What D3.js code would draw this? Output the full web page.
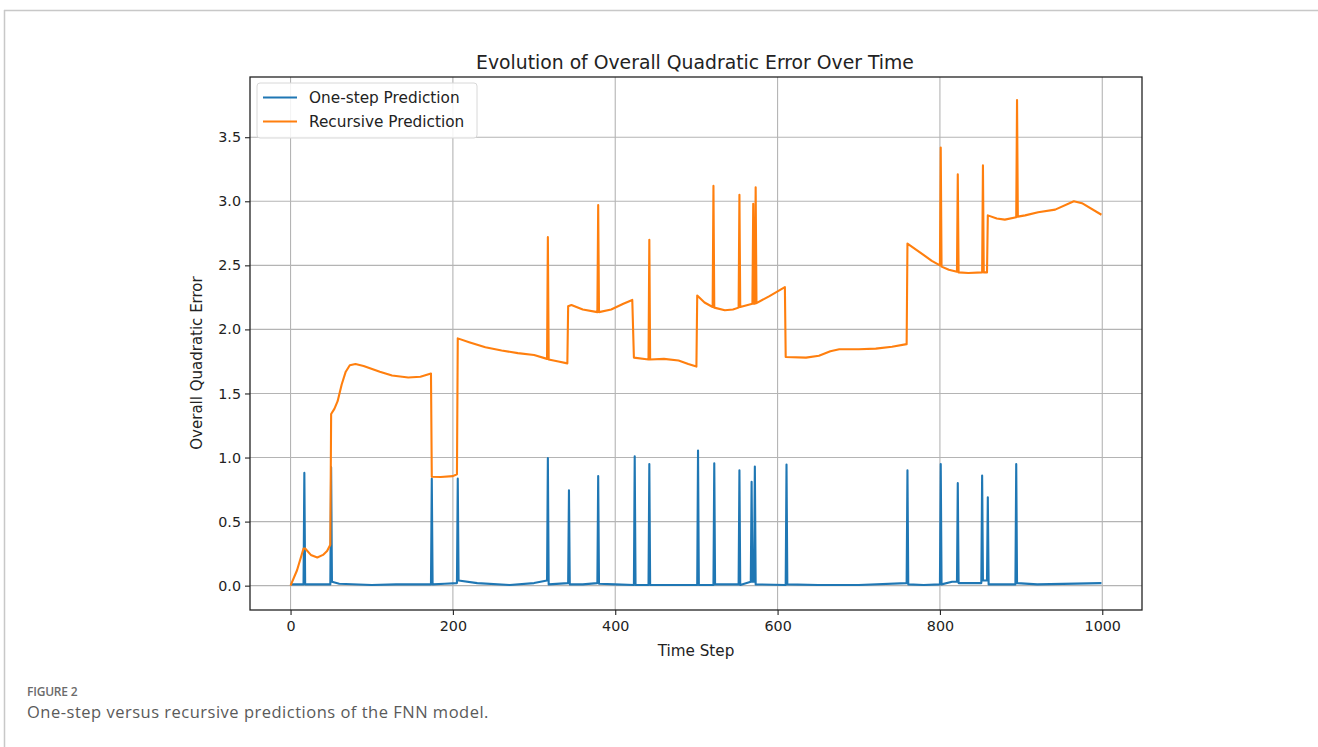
<!DOCTYPE html>
<html>
<head>
<meta charset="utf-8">
<script src="https://cdn.jsdelivr.net/npm/d3@7/dist/d3.min.js"></script>
<style>
  html, body { margin: 0; padding: 0; background: #ffffff; }
  svg { display: block; }
</style>
</head>
<body>
<svg id="chart" width="1318" height="747"></svg>
<script>
// ---------------- DATA ----------------
const chartTitle = "Evolution of Overall Quadratic Error Over Time";
const xLabel = "Time Step";
const yLabel = "Overall Quadratic Error";
const seriesNames = ["One-step Prediction", "Recursive Prediction"];
const xTicks = [0, 200, 400, 600, 800, 1000];
const yTicks = [0.0, 0.5, 1.0, 1.5, 2.0, 2.5, 3.0, 3.5];
const figureLabel = "FIGURE 2";
const figureCaption = "One-step versus recursive predictions of the FNN model.";

// One-step prediction: time steps and values (keypoints)
const oneStepT = [0, 16, 17, 18, 49, 50, 51, 60, 100, 130, 173, 174, 175, 190, 205, 206, 207, 230, 270, 300, 316, 317, 318,
  342, 343, 344, 360, 378, 379, 380, 400, 423, 424, 425, 441, 442, 443, 470, 501, 502, 503, 521, 522, 523,
  552, 553, 554, 567, 568, 569, 571, 572, 573, 610, 611, 612, 650, 700, 759, 760, 761, 780, 800, 801, 802,
  815, 821, 822, 823, 851, 852, 853, 858, 859, 860, 893, 894, 895, 920, 999];
const oneStepV = [0.01, 0.01, 0.88, 0.01, 0.01, 0.925, 0.03, 0.015, 0.005, 0.01, 0.01, 0.835, 0.01, 0.015, 0.02, 0.835, 0.04, 0.02, 0.005, 0.02, 0.04, 0.995, 0.01,
  0.02, 0.745, 0.01, 0.01, 0.02, 0.855, 0.015, 0.01, 0.005, 1.01, 0.005, 0.005, 0.95, 0.005, 0.005, 0.005, 1.055, 0.005, 0.005, 0.955, 0.01,
  0.01, 0.9, 0.005, 0.03, 0.81, 0.03, 0.03, 0.93, 0.01, 0.005, 0.945, 0.01, 0.005, 0.005, 0.02, 0.9, 0.01, 0.005, 0.01, 0.95, 0.01,
  0.03, 0.03, 0.8, 0.02, 0.02, 0.86, 0.04, 0.04, 0.69, 0.01, 0.01, 0.95, 0.02, 0.01, 0.02];

// Recursive prediction: time steps and values (keypoints)
const recursiveT = [0, 8, 16, 18, 25, 33, 40, 45, 49, 50, 54, 58, 63, 68, 73, 80, 90, 110, 125, 145, 160, 173, 174, 185, 200, 205,
  206, 220, 240, 260, 280, 300, 316, 317, 318, 330, 341, 342, 346, 360, 378, 379, 380, 395, 410, 421, 423, 441, 442, 443,
  460, 478, 490, 500, 501, 510, 520, 521, 522, 535, 545, 552, 553, 554, 569, 570, 571, 572, 573, 574, 590, 609, 610,
  635, 651, 665, 676, 700, 721, 741, 759, 760, 778, 790, 800, 801, 802, 811, 821, 822, 823, 835, 852, 853, 854, 858,
  859, 870, 880, 894, 895, 896, 905, 921, 942, 965, 975, 999];
const recursiveV = [0.0, 0.12, 0.29, 0.29, 0.24, 0.22, 0.24, 0.27, 0.32, 1.34, 1.38, 1.44, 1.57, 1.67, 1.72, 1.73, 1.715, 1.67, 1.64, 1.625, 1.63, 1.655, 0.85, 0.848, 0.855, 0.87,
  1.93, 1.9, 1.86, 1.835, 1.815, 1.8, 1.77, 2.72, 1.765, 1.75, 1.735, 2.18, 2.19, 2.155, 2.135, 2.97, 2.135, 2.155, 2.2, 2.23, 1.78, 1.765, 2.7, 1.765,
  1.77, 1.757, 1.73, 1.71, 2.265, 2.21, 2.175, 3.12, 2.17, 2.15, 2.155, 2.17, 3.05, 2.175, 2.2, 2.98, 2.2, 2.2, 3.11, 2.205, 2.26, 2.33, 1.785,
  1.78, 1.795, 1.83, 1.845, 1.845, 1.85, 1.865, 1.885, 2.67, 2.59, 2.535, 2.5, 3.42, 2.49, 2.465, 2.45, 3.21, 2.445, 2.44, 2.445, 3.28, 2.445, 2.445,
  2.89, 2.865, 2.857, 2.875, 3.79, 2.88, 2.89, 2.915, 2.935, 3.0, 2.985, 2.895];

const seriesColors = ["#1f77b4", "#ff7f0e"];

// ---------------- DRAWING ----------------
const svg = d3.select("#chart");
const font = "'DejaVu Sans', sans-serif";
const capFont = "'Open Sans', 'Noto Sans', sans-serif";

// figure frame lines
svg.append("line").attr("x1", 4).attr("x2", 1318).attr("y1", 10.5).attr("y2", 10.5)
  .attr("stroke", "#c8c8c8").attr("stroke-width", 1.5);
svg.append("line").attr("x1", 4.5).attr("x2", 4.5).attr("y1", 10).attr("y2", 747)
  .attr("stroke", "#c8c8c8").attr("stroke-width", 1.5);

const plot = { left: 250, right: 1142, top: 77, bottom: 610 };
const x = d3.scaleLinear().domain([-49.95, 1048.95]).range([plot.left, plot.right]);
const y = d3.scaleLinear().domain([-0.19, 3.97]).range([plot.bottom, plot.top]);

// grid
const g = svg.append("g");
g.append("g").selectAll("line").data(xTicks).join("line")
  .attr("x1", d => x(d)).attr("x2", d => x(d))
  .attr("y1", plot.top).attr("y2", plot.bottom)
  .attr("stroke", "#b4b4b4").attr("stroke-width", 1.1);
g.append("g").selectAll("line").data(yTicks).join("line")
  .attr("x1", plot.left).attr("x2", plot.right)
  .attr("y1", d => y(d)).attr("y2", d => y(d))
  .attr("stroke", "#b4b4b4").attr("stroke-width", 1.1);

// lines
const series = [
  oneStepT.map((t, i) => [t, oneStepV[i]]),
  recursiveT.map((t, i) => [t, recursiveV[i]])
];
const line = d3.line().x(d => x(d[0])).y(d => y(d[1]));
series.forEach((s, i) => {
  svg.append("path").datum(s)
    .attr("fill", "none")
    .attr("stroke", seriesColors[i])
    .attr("stroke-width", 2.1)
    .attr("stroke-linejoin", "round")
    .attr("stroke-linecap", "butt")
    .attr("d", line);
});

// axes
const xAxis = d3.axisBottom(x).tickValues(xTicks).tickFormat(d3.format("d")).tickSizeOuter(0).tickSize(5).tickPadding(6);
const yAxis = d3.axisLeft(y).tickValues(yTicks).tickFormat(d3.format(".1f")).tickSizeOuter(0).tickSize(5).tickPadding(4);
const gx = svg.append("g").attr("transform", `translate(0,${plot.bottom})`).call(xAxis);
const gy = svg.append("g").attr("transform", `translate(${plot.left},0)`).call(yAxis);
[gx, gy].forEach(a => {
  a.select(".domain").remove();
  a.selectAll("line").attr("stroke", "#222").attr("stroke-width", 1.1);
  a.selectAll("text").attr("font-family", font).attr("font-size", 14.3).attr("fill", "#222");
});

// spines
svg.append("rect").attr("x", plot.left).attr("y", plot.top)
  .attr("width", plot.right - plot.left).attr("height", plot.bottom - plot.top)
  .attr("fill", "none").attr("stroke", "#222").attr("stroke-width", 1.3);

// title + labels
svg.append("text").attr("x", (plot.left + plot.right) / 2 - 1).attr("y", 68.5)
  .attr("text-anchor", "middle").attr("font-family", font).attr("font-size", 18.8)
  .attr("fill", "#222").text(chartTitle);
svg.append("text").attr("x", 696).attr("y", 656)
  .attr("text-anchor", "middle").attr("font-family", font).attr("font-size", 15.2)
  .attr("fill", "#222").text(xLabel);
svg.append("text").attr("transform", "translate(202,363) rotate(-90)")
  .attr("text-anchor", "middle").attr("font-family", font).attr("font-size", 15)
  .attr("fill", "#222").text(yLabel);

// legend
const lg = svg.append("g");
lg.append("rect").attr("x", 257).attr("y", 83).attr("width", 220).attr("height", 55)
  .attr("rx", 3).attr("fill", "#ffffff").attr("fill-opacity", 0.85)
  .attr("stroke", "#d8d8d8").attr("stroke-width", 1);
seriesNames.forEach((name, i) => {
  const yy = 97.5 + i * 24;
  lg.append("line").attr("x1", 263).attr("x2", 297).attr("y1", yy).attr("y2", yy)
    .attr("stroke", seriesColors[i]).attr("stroke-width", 2.1);
  lg.append("text").attr("x", 309).attr("y", yy + 5.5)
    .attr("font-family", font).attr("font-size", 15.3).attr("fill", "#222").text(name);
});

// caption
svg.append("text").attr("x", 27).attr("y", 696)
  .attr("font-family", capFont).attr("font-size", 12)
  .attr("font-weight", 600).attr("letter-spacing", -0.2).attr("fill", "#6b6b6b").text(figureLabel);
svg.append("text").attr("x", 27).attr("y", 718)
  .attr("font-family", capFont).attr("font-size", 16.5).attr("letter-spacing", 0.5)
  .attr("fill", "#5a5a5a").text(figureCaption);
</script>
</body>
</html>
